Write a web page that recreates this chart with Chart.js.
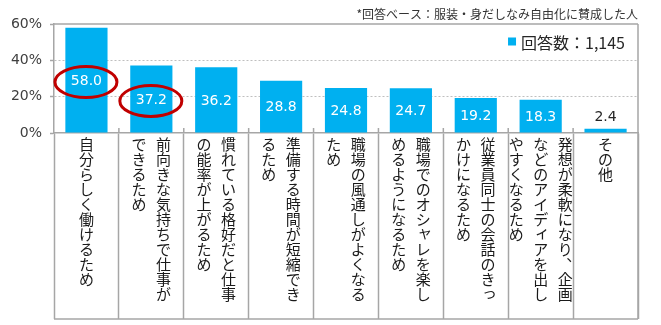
<!DOCTYPE html>
<html>
<head>
<meta charset="utf-8">
<script src="https://cdn.jsdelivr.net/npm/chart.js@4/dist/chart.umd.min.js"></script>
<style>
  html, body { margin: 0; padding: 0; background: #ffffff; }
  #wrap { width: 661px; height: 325px; position: relative; }
</style>
</head>
<body>
<div id="wrap"><canvas id="c" width="661" height="325"></canvas></div>
<script>
// ---- data ----
const categories = [
  "自分らしく働けるため",
  "前向きな気持ちで仕事ができるため",
  "慣れている格好だと仕事の能率が上がるため",
  "準備する時間が短縮できるため",
  "職場の風通しがよくなるため",
  "職場でのオシャレを楽しめるようになるため",
  "従業員同士の会話のきっかけになるため",
  "発想が柔軟になり、企画などのアイディアを出しやすくなるため",
  "その他"
];
// vertical label columns (right to left)
const categoryColumns = [
  ["自分らしく働けるため"],
  ["前向きな気持ちで仕事が", "できるため"],
  ["慣れている格好だと仕事", "の能率が上がるため"],
  ["準備する時間が短縮でき", "るため"],
  ["職場の風通しがよくなる", "ため"],
  ["職場でのオシャレを楽し", "めるようになるため"],
  ["従業員同士の会話のきっ", "かけになるため"],
  ["発想が柔軟になり、企画", "などのアイディアを出し", "やすくなるため"],
  ["その他"]
];
const values = [58.0, 37.2, 36.2, 28.8, 24.8, 24.7, 19.2, 18.3, 2.4];
const yTickValues = [0, 20, 40, 60];
const highlightedIndexes = [0, 1];
const seriesLabel = "回答数：1,145";
const noteText = "*回答ベース：服装・身だしなみ自由化に賛成した人";

// ---- styles ----
const BAR_COLOR = "#00B0F0";
const FRAME = "#a6a6a6";
const LABEL_AREA_H = 186;

const framePlugin = {
  id: "frame",
  afterDraw(chart) {
    const ctx = chart.ctx;
    const ca = chart.chartArea;
    const xs = chart.scales.x;
    const bottom = xs.bottom;
    ctx.save();
    ctx.strokeStyle = FRAME;
    ctx.lineWidth = 1.5;
    ctx.beginPath();
    ctx.moveTo(ca.left, ca.top); ctx.lineTo(ca.right, ca.top);
    ctx.moveTo(ca.right, ca.top); ctx.lineTo(ca.right, bottom);
    ctx.moveTo(ca.left, bottom); ctx.lineTo(ca.right, bottom);
    // small marks above the axis at category boundaries
    for (let i = 1; i < categories.length; i++) {
      const x = (xs.getPixelForValue(i - 1) + xs.getPixelForValue(i)) / 2;
      ctx.moveTo(x, ca.bottom - 5); ctx.lineTo(x, ca.bottom);
    }
    ctx.stroke();
    ctx.restore();
  }
};

const valueLabelPlugin = {
  id: "valueLabels",
  afterDatasetsDraw(chart) {
    const ctx = chart.ctx;
    const meta = chart.getDatasetMeta(0);
    ctx.save();
    ctx.font = '14px "DejaVu Sans"';
    ctx.textAlign = "center";
    ctx.textBaseline = "middle";
    meta.data.forEach((bar, i) => {
      const v = values[i];
      const txt = v.toFixed(1);
      const h = bar.base - bar.y;
      let y;
      if (h > 22) {
        y = (bar.y + bar.base) / 2 + 1;
        ctx.fillStyle = "#ffffff";
      } else {
        y = bar.y - 11;
        ctx.fillStyle = "#262626";
      }
      ctx.fillText(txt, bar.x, y);
      if (highlightedIndexes.includes(i)) {
        ctx.save();
        ctx.strokeStyle = "#C00000";
        ctx.lineWidth = 3;
        ctx.beginPath();
        ctx.ellipse(bar.x - 0.5, y + 1, 31, 15.5, 0, 0, Math.PI * 2);
        ctx.stroke();
        ctx.restore();
      }
    });
    ctx.restore();
  }
};

function drawVerticalColumn(ctx, str, x, firstCenterY, pitch) {
  let y = firstCenterY;
  for (const ch of str) {
    let dx = 0, dy = 0;
    if (ch === "、" || ch === "。") { dx = pitch * 0.58; dy = -pitch * 0.58; }
    else if ("っッャャィゃゅょァ".includes(ch)) { dx = pitch * 0.1; dy = -pitch * 0.1; }
    ctx.fillText(ch, x + dx, y + dy);
    y += pitch;
  }
}

const categoryLabelPlugin = {
  id: "categoryLabels",
  afterDraw(chart) {
    const ctx = chart.ctx;
    const xs = chart.scales.x;
    const top = xs.top;
    const pitch = 15;
    const colGap = 24.5;
    ctx.save();
    ctx.font = '15px "Noto Sans CJK JP"';
    ctx.fillStyle = "#1a1a1a";
    ctx.textAlign = "center";
    ctx.textBaseline = "middle";
    categoryColumns.forEach((cols, i) => {
      const cx = xs.getPixelForValue(i);
      const n = cols.length;
      cols.forEach((col, j) => {
        const x = cx + ((n - 1) / 2 - j) * colGap;
        drawVerticalColumn(ctx, col, x, top + 11, pitch);
      });
    });
    ctx.restore();
  }
};

const legendPlugin = {
  id: "customLegend",
  afterDraw(chart) {
    const ctx = chart.ctx;
    const ca = chart.chartArea;
    const ds = chart.data.datasets[0];
    ctx.save();
    ctx.font = '16px "DejaVu Sans", "Noto Sans CJK JP"';
    ctx.font = '16px "Noto Sans CJK JP"';
    const w = ctx.measureText(ds.label).width;
    const textRight = ca.right - 13;
    const textLeft = textRight - w;
    const cy = ca.top + 18;
    ctx.fillStyle = ds.backgroundColor;
    ctx.fillRect(textLeft - 13, cy - 4.5, 8, 8);
    ctx.fillStyle = "#262626";
    ctx.textAlign = "left";
    ctx.textBaseline = "middle";
    ctx.fillText(ds.label, textLeft, cy + 1);
    ctx.restore();
  }
};

new Chart(document.getElementById("c"), {
  type: "bar",
  data: {
    labels: categories,
    datasets: [{
      label: seriesLabel,
      data: values,
      backgroundColor: BAR_COLOR,
      borderWidth: 0,
      categoryPercentage: 0.65,
      barPercentage: 1.0
    }]
  },
  options: {
    responsive: false,
    animation: false,
    layout: { padding: { left: 0, right: 23, top: 0, bottom: 6 } },
    plugins: {
      legend: { display: false },
      tooltip: { enabled: false },
      title: {
        display: true,
        text: noteText,
        align: "end",
        color: "#333333",
        font: { family: '"Noto Sans CJK JP"', size: 12, weight: "normal", lineHeight: 1.2 },
        padding: { top: 7, bottom: 2.6 }
      }
    },
    scales: {
      x: {
        type: "category",
        offset: true,
        ticks: { display: false },
        grid: {
          display: true,
          offset: true,
          drawOnChartArea: false,
          drawTicks: true,
          tickLength: LABEL_AREA_H,
          color: FRAME,
          tickColor: FRAME,
          tickWidth: 1.5
        },
        border: { display: true, color: FRAME, width: 1.5 },
        afterFit(scale) { scale.height = LABEL_AREA_H; }
      },
      y: {
        min: 0,
        max: 60,
        afterBuildTicks(scale) { scale.ticks = yTickValues.map(v => ({ value: v })); },
        ticks: {
          padding: 8,
          color: "#404040",
          font: { family: '"DejaVu Sans"', size: 14 },
          callback: (v) => v + "%"
        },
        grid: {
          drawTicks: true,
          tickLength: 4,
          color: (c) => (c.tick && (c.tick.value === 20 || c.tick.value === 40)) ? "#bfbfbf" : "rgba(0,0,0,0)",
          tickColor: FRAME,
          tickWidth: 1.5,
          lineWidth: 1
        },
        border: { display: true, color: FRAME, width: 1.5, dash: [2, 2] },
        afterFit(scale) { scale.width = 54; }
      }
    }
  },
  plugins: [framePlugin, valueLabelPlugin, categoryLabelPlugin, legendPlugin]
});
</script>
</body>
</html>
